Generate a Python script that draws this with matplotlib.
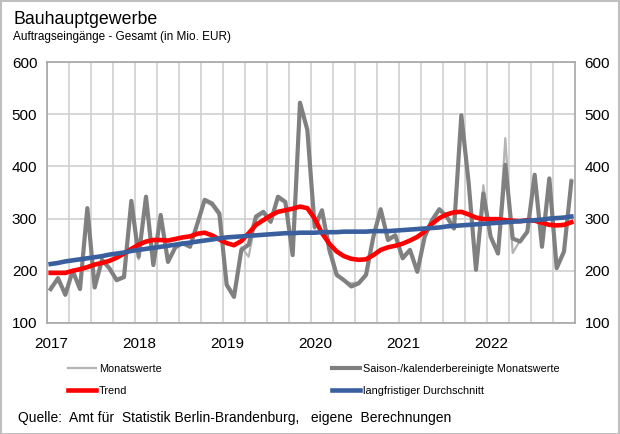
import numpy as np
import matplotlib
matplotlib.use("Agg")
import matplotlib.pyplot as plt
import matplotlib.transforms as mtransforms
from matplotlib.patches import Rectangle

plt.rcParams['font.family'] = ['Liberation Sans', 'DejaVu Sans']

YEARS = ["2017", "2018", "2019", "2020", "2021", "2022"]

# Monatswerte (Original)
monatswerte = [
    170, 180, 160, 198, 168, 315, 172, 218, 205, 185, 190, 328,
    222, 336, 215, 300, 222, 245, 255, 248, 290, 333, 325, 305,
    176, 155, 245, 227, 300, 310, 292, 338, 330, 232, 518, 468,
    280, 312, 256, 196, 180, 176, 178, 195, 262, 315, 262, 270,
    227, 242, 200, 262, 295, 315, 302, 283, 494, 366, 204, 364,
    268, 236, 454, 234, 258, 272, 380, 248, 374, 208, 235, 375,
]
# Saison-/kalenderbereinigte Monatswerte
saisonbereinigt = [
    165, 186, 154, 200, 165, 320, 168, 221, 205, 182, 188, 334,
    227, 342, 211, 307, 217, 245, 253, 246, 290, 336, 329, 310,
    173, 150, 240, 250, 304, 313, 294, 342, 332, 230, 522, 470,
    284, 316, 240, 192, 182, 170, 176, 192, 265, 318, 259, 268,
    224, 240, 198, 265, 297, 318, 304, 281, 498, 368, 202, 348,
    265, 233, 403, 262, 256, 275, 384, 246, 377, 205, 237, 371,
]
trend = [
    196, 196, 196, 200, 203, 207, 212, 215, 219, 225, 233, 242,
    250, 256, 259, 259, 258, 261, 264, 266, 271, 273, 268, 260,
    253, 249, 257, 272, 288, 297, 306, 313, 316, 319, 323, 320,
    300, 272, 252, 237, 228, 223, 221, 222, 230, 240, 245, 248,
    252, 258, 265, 275, 290, 301, 308, 312, 313, 308, 302, 299,
    299, 299, 297, 296, 295, 297, 296, 292, 288, 287, 288, 293,
]
durchschnitt = [
    213, 215, 218, 220, 222, 224, 226, 228, 231, 233, 235, 238,
    240, 242, 244, 246, 248, 250, 252, 254, 256, 258, 260, 262,
    264, 265, 266, 267, 268, 269, 270, 271, 272, 272, 273, 273,
    273, 274, 274, 274, 275, 275, 275, 275, 276, 276, 276, 277,
    278, 279, 280, 281, 282, 283, 285, 286, 287, 288, 289, 290,
    291, 292, 293, 294, 295, 296, 297, 298, 300, 301, 302, 304,
]

x = np.arange(len(saisonbereinigt)) + 0.5

fig = plt.figure(figsize=(6.2, 4.34), dpi=100)
ax = fig.add_axes([47 / 620, 1 - 323 / 434, 528 / 620, 261 / 434])

ax.plot(x, monatswerte, color="#b4b4b4", lw=1.6, label="Monatswerte", zorder=3)
ax.plot(x, saisonbereinigt, color="#808080", lw=3.0,
        label="Saison-/kalenderbereinigte Monatswerte", zorder=4)
ax.plot(x, trend, color="#ff0000", lw=3.3, label="Trend", zorder=5)
ax.plot(x, durchschnitt, color="#3a5f9e", lw=3.3,
        label="langfristiger Durchschnitt", zorder=6)

ax.set_xlim(0, 72)
ax.set_ylim(100, 600)
ax.set_yticks(range(100, 601, 100))
ax.set_xticks(range(0, 72, 12))
ax.set_xticklabels(YEARS)
ax.set_xticks(range(0, 72, 3), minor=True)
ax.grid(True, which="both", axis="x", color="#d0d0d0", lw=1.2, zorder=1)
ax.grid(True, which="major", axis="y", color="#d0d0d0", lw=1.2, zorder=1)
ax.tick_params(which="both", length=0)
ax.tick_params(axis="y", labelsize=11, labelright=True, pad=7)
ax.tick_params(axis="x", labelsize=11, pad=10)
for lbl in ax.get_xticklabels():
    lbl.set_transform(lbl.get_transform() +
                      mtransforms.ScaledTranslation(0.04, 0, fig.dpi_scale_trans))
for sp in ax.spines.values():
    sp.set_color("#a6a6a6")
    sp.set_linewidth(1.2)

fig.text(13 / 620, 1 - 24 / 434, "Bauhauptgewerbe", fontsize=12.8, va="baseline")
fig.text(13 / 620, 1 - 40 / 434, "Auftragseingänge - Gesamt (in Mio. EUR)",
         fontsize=8.5, va="baseline")

handles, labels = ax.get_legend_handles_labels()
order = [0, 2, 1, 3]
fig.legend([handles[i] for i in order], [labels[i] for i in order],
           ncol=2, loc="upper left", bbox_to_anchor=(58 / 620, 1 - 354 / 434),
           frameon=False, fontsize=7.8, handlelength=2.6, handletextpad=0.3,
           columnspacing=15.7, labelspacing=1.15)

fig.text(18 / 620, 1 - 422 / 434,
         "Quelle:  Amt für  Statistik Berlin-Brandenburg,   eigene  Berechnungen",
         fontsize=10, va="baseline")

fig.patches.append(Rectangle((0.5 / 620, 0.5 / 434), 1 - 1.5 / 620, 1 - 1.5 / 434,
                             transform=fig.transFigure, fill=False,
                             edgecolor="#bfbfbf", lw=1.5))

fig.savefig("out.png", dpi=100)
